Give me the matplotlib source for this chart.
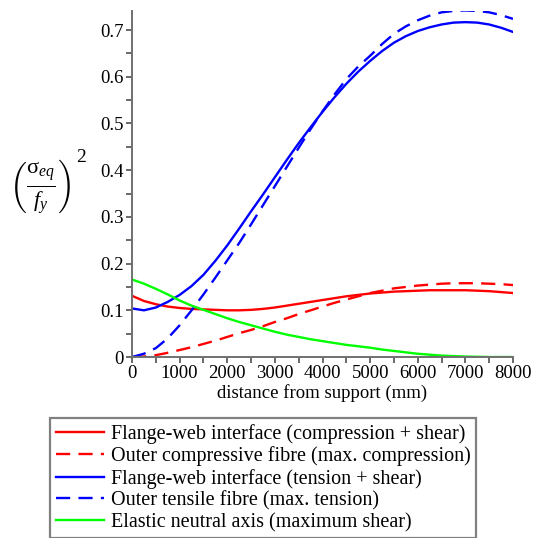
import numpy as np
import matplotlib
matplotlib.use("Agg")
import matplotlib.pyplot as plt
from matplotlib.ticker import MultipleLocator

plt.rcParams['font.family'] = ['Liberation Serif', 'DejaVu Serif']
plt.rcParams['mathtext.fontset'] = 'custom'
plt.rcParams['mathtext.rm'] = 'Liberation Serif'
plt.rcParams['mathtext.it'] = 'Liberation Serif:italic'

# distance from support (mm)
x = [0, 250, 500, 750, 1000, 1250, 1500, 1750, 2000, 2250, 2500,
     2750, 3000, 3250, 3500, 3750, 4000, 4250, 4500, 4750, 5000,
     5250, 5500, 5750, 6000, 6250, 6500, 6750, 7000, 7250, 7500,
     7750, 8000]

# (sigma_eq / f_y)^2
red_solid = [0.131, 0.120, 0.113, 0.108, 0.105, 0.103, 0.102, 0.101, 0.100,
             0.100, 0.101, 0.103, 0.106, 0.110, 0.114, 0.118, 0.122, 0.126,
             0.130, 0.133, 0.136, 0.138, 0.140, 0.141, 0.142, 0.143, 0.143,
             0.143, 0.143, 0.142, 0.141, 0.139, 0.137]
red_dashed = [0.0, 0.001, 0.004, 0.009, 0.015, 0.021, 0.028, 0.035, 0.043,
              0.051, 0.058, 0.066, 0.075, 0.083, 0.092, 0.100, 0.108, 0.116,
              0.123, 0.130, 0.137, 0.142, 0.147, 0.150, 0.153, 0.155, 0.157,
              0.158, 0.158, 0.158, 0.157, 0.156, 0.154]
blue_solid = [0.104, 0.100, 0.106, 0.118, 0.133, 0.152, 0.176, 0.206, 0.239,
              0.275, 0.312, 0.348, 0.385, 0.422, 0.458, 0.492, 0.525, 0.556,
              0.585, 0.611, 0.634, 0.655, 0.673, 0.687, 0.698, 0.706, 0.712,
              0.716, 0.717, 0.716, 0.712, 0.705, 0.696]
blue_dashed = [0.0, 0.007, 0.019, 0.040, 0.068, 0.100, 0.134, 0.170, 0.207,
               0.244, 0.284, 0.325, 0.366, 0.407, 0.448, 0.488, 0.526, 0.562,
               0.595, 0.622, 0.645, 0.670, 0.692, 0.708, 0.721, 0.731, 0.738,
               0.741, 0.742, 0.741, 0.738, 0.732, 0.724]
green = [0.166, 0.157, 0.146, 0.134, 0.121, 0.110, 0.101, 0.092, 0.083,
         0.075, 0.068, 0.061, 0.054, 0.048, 0.043, 0.038, 0.034, 0.030,
         0.026, 0.023, 0.020, 0.016, 0.013, 0.010, 0.007, 0.005, 0.003,
         0.002, 0.001, 0.0005, 0.0, 0.0, 0.0]

labels = ["Flange-web interface (compression + shear)",
          "Outer compressive fibre (max. compression)",
          "Flange-web interface (tension + shear)",
          "Outer tensile fibre (max. tension)",
          "Elastic neutral axis (maximum shear)"]

fig = plt.figure(figsize=(5.33, 5.38), dpi=100)
ax = fig.add_axes([0.2477, 0.3364, 0.7148, 0.6424])

dash = (0, (6, 3.5))
lw = 1.7
ax.plot(x, red_solid, color='#ff0000', lw=lw, label=labels[0])
ax.plot(x, red_dashed, color='#ff0000', lw=lw, ls=dash, label=labels[1])
ax.plot(x, blue_solid, color='#0000ff', lw=lw, label=labels[2])
ax.plot(x, blue_dashed, color='#0000ff', lw=lw, ls=dash, label=labels[3])
ax.plot(x, green, color='#00ff00', lw=lw, label=labels[4])

ax.set_xlim(0, 8000)
ax.set_ylim(0, 0.74)
for s in ['top', 'right']:
    ax.spines[s].set_visible(False)
for s in ['left', 'bottom']:
    ax.spines[s].set_color('#707070')
    ax.spines[s].set_linewidth(1.4)

ax.xaxis.set_major_locator(MultipleLocator(1000))
ax.xaxis.set_minor_locator(MultipleLocator(500))
ax.yaxis.set_major_locator(MultipleLocator(0.1))
ax.yaxis.set_minor_locator(MultipleLocator(0.05))
ax.yaxis.set_major_formatter(lambda v, p: '0' if v == 0 else f'{v:.1f}')
ax.tick_params(which='both', length=4, width=1.2, color='#505050',
               labelsize=13.5, pad=2)

ax.set_xlabel('distance from support (mm)', fontsize=13.5, labelpad=1)

# y label: big parentheses around the fraction, exponent set on its own
fig.text(0.016, 0.652, r'$\left(\frac{\mathrm{\sigma}_{eq}}{f_y}\right)$',
         fontsize=23, va='center', ha='left')
fig.text(0.143, 0.708, '2', fontsize=14, va='center', ha='left')

leg = ax.legend(loc='upper left', bbox_to_anchor=(0.094, 0.223),
                bbox_transform=fig.transFigure, borderaxespad=0,
                fontsize=14.5, handlelength=2.4, handletextpad=0.3,
                labelspacing=0.12, fancybox=False, framealpha=1,
                edgecolor='#808080', borderpad=0.3)
leg.get_frame().set_linewidth(1.6)

fig.savefig('out.png', dpi=100)
